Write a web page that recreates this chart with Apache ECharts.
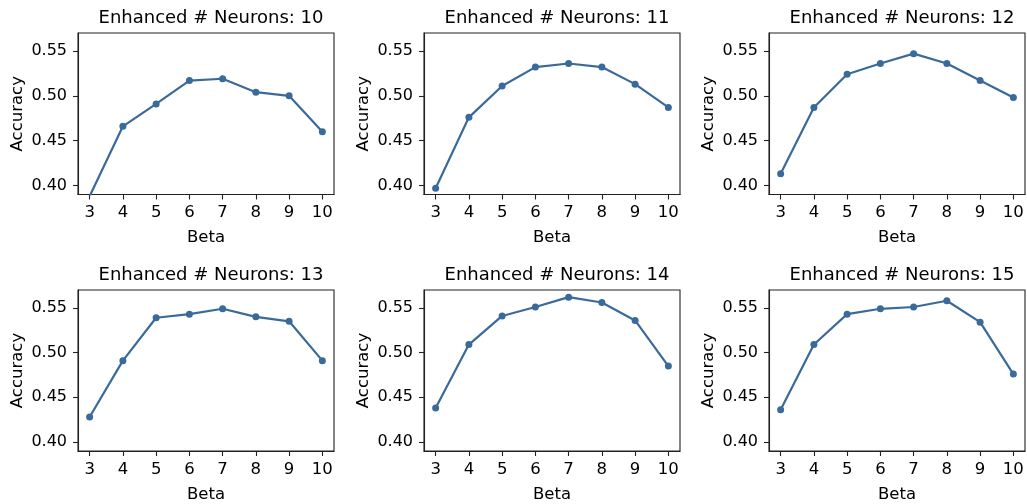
<!DOCTYPE html>
<html>
<head>
<meta charset="utf-8">
<script src="https://cdn.jsdelivr.net/npm/echarts@6/dist/echarts.min.js"></script>
<style>
html,body{margin:0;padding:0;background:#fff;}
#chart{width:1027px;height:504px;}
</style>
</head>
<body>
<div id="chart"></div>
<script>
const betas = [3, 4, 5, 6, 7, 8, 9, 10];
const neuronCounts = [10, 11, 12, 13, 14, 15];
const acc10 = [0.388, 0.466, 0.491, 0.517, 0.519, 0.504, 0.500, 0.460];
const acc11 = [0.397, 0.476, 0.511, 0.532, 0.536, 0.532, 0.513, 0.487];
const acc12 = [0.413, 0.487, 0.524, 0.536, 0.547, 0.536, 0.517, 0.498];
const acc13 = [0.428, 0.491, 0.539, 0.543, 0.549, 0.540, 0.535, 0.491];
const acc14 = [0.438, 0.509, 0.541, 0.551, 0.562, 0.556, 0.536, 0.485];
const acc15 = [0.436, 0.509, 0.543, 0.549, 0.551, 0.558, 0.534, 0.476];
const yTicks = [0.40, 0.45, 0.50, 0.55];
const allSeries = [acc10, acc11, acc12, acc13, acc14, acc15];

const FONT = 'DejaVu Sans';
const lefts = [78, 424, 769];
const tops = [33, 290];
const W = 256, H = 161.5;
const lineColor = '#3a6a9a';
const axisColor = '#222';

const grids = [], xAxes = [], yAxes = [], series = [], titles = [];
allSeries.forEach((vals, i) => {
  const r = Math.floor(i / 3), c = i % 3;
  grids.push({left: lefts[c], top: tops[r], width: W, height: H, show: true,
    borderColor: axisColor, borderWidth: 1.1, backgroundColor: 'transparent'});
  titles.push({text: 'Enhanced # Neurons: ' + neuronCounts[i],
    left: lefts[c] + W / 2, top: tops[r] - 29, textAlign: 'center',
    textStyle: {fontFamily: FONT, fontSize: 18, fontWeight: 'normal', color: '#000'}});
  xAxes.push({type: 'value', gridIndex: i, min: 2.65, max: 10.35,
    name: 'Beta', nameLocation: 'middle', nameGap: 35,
    nameTextStyle: {fontFamily: FONT, fontSize: 16.5, color: '#000'},
    axisLine: {show: true, onZero: false, lineStyle: {color: axisColor, width: 1.1}},
    axisTick: {show: true, length: 5, lineStyle: {color: axisColor, width: 1.1}, customValues: betas},
    axisLabel: {fontFamily: FONT, fontSize: 16.5, color: '#000', margin: 10, customValues: betas,
      formatter: v => String(Math.round(v))},
    splitLine: {show: false}});
  yAxes.push({type: 'value', gridIndex: i, min: 0.39, max: 0.57,
    name: 'Accuracy', nameLocation: 'middle', nameGap: 52,
    nameTextStyle: {fontFamily: FONT, fontSize: 16.5, color: '#000'},
    axisLine: {show: true, onZero: false, lineStyle: {color: axisColor, width: 1.1}},
    axisTick: {show: true, length: 5, lineStyle: {color: axisColor, width: 1.1}, customValues: yTicks},
    axisLabel: {fontFamily: FONT, fontSize: 16, color: '#000', margin: 11, customValues: yTicks,
      formatter: v => v.toFixed(2)},
    splitLine: {show: false}});
  series.push({type: 'line', xAxisIndex: i, yAxisIndex: i,
    data: betas.map((b, k) => [b, vals[k]]),
    symbol: 'circle', symbolSize: 7, clip: true,
    lineStyle: {color: lineColor, width: 2.2},
    itemStyle: {color: lineColor}, animation: false});
});

const chart = echarts.init(document.getElementById('chart'), null, {renderer: 'canvas'});
chart.setOption({animation: false, title: titles, grid: grids, xAxis: xAxes, yAxis: yAxes, series: series});
</script>
</body>
</html>
